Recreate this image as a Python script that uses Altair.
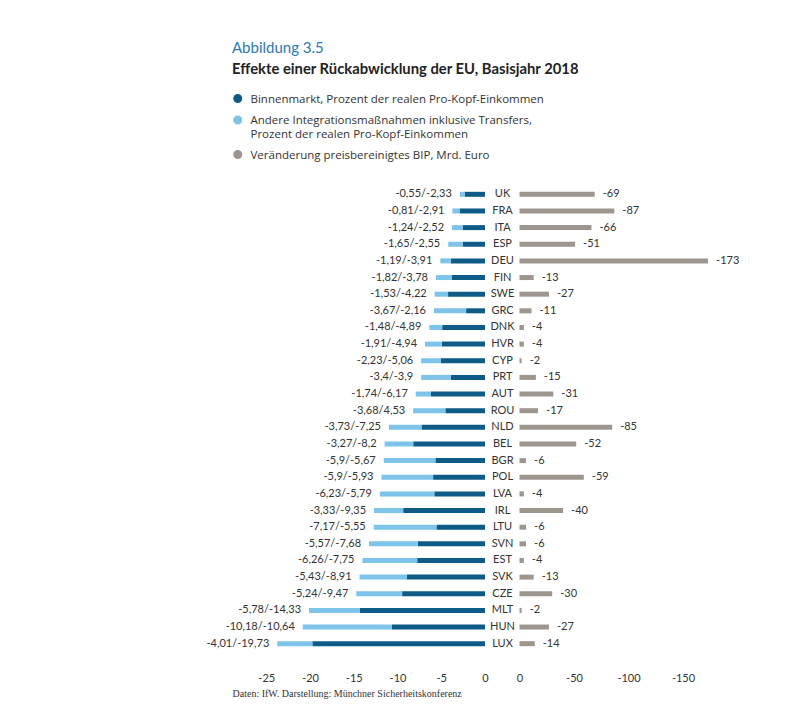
import altair as alt
import pandas as pd

countries = ["UK", "FRA", "ITA", "ESP", "DEU", "FIN", "SWE", "GRC", "DNK", "HVR",
             "CYP", "PRT", "AUT", "ROU", "NLD", "BEL", "BGR", "POL", "LVA", "IRL",
             "LTU", "SVN", "EST", "SVK", "CZE", "MLT", "HUN", "LUX"]
# Andere Integrationsmaßnahmen (light), Binnenmarkt (dark), in % (magnitudes)
other = [0.55, 0.81, 1.24, 1.65, 1.19, 1.82, 1.53, 3.67, 1.48, 1.91,
         2.23, 3.4, 1.74, 3.68, 3.73, 3.27, 5.9, 5.9, 6.23, 3.33,
         7.17, 5.57, 6.26, 5.43, 5.24, 5.78, 10.18, 4.01]
single_market = [2.33, 2.91, 2.52, 2.55, 3.91, 3.78, 4.22, 2.16, 4.89, 4.94,
                 5.06, 3.9, 6.17, 4.53, 7.25, 8.2, 5.67, 5.93, 5.79, 9.35,
                 5.55, 7.68, 7.75, 8.91, 9.47, 14.33, 10.64, 19.73]
gdp = [-69, -87, -66, -51, -173, -13, -27, -11, -4, -4,
       -2, -15, -31, -17, -85, -52, -6, -59, -4, -40,
       -6, -6, -4, -13, -30, -2, -27, -14]
pct_labels = ["-0,55/-2,33", "-0,81/-2,91", "-1,24/-2,52", "-1,65/-2,55", "-1,19/-3,91",
              "-1,82/-3,78", "-1,53/-4,22", "-3,67/-2,16", "-1,48/-4,89", "-1,91/-4,94",
              "-2,23/-5,06", "-3,4/-3,9", "-1,74/-6,17", "-3,68/4,53", "-3,73/-7,25",
              "-3,27/-8,2", "-5,9/-5,67", "-5,9/-5,93", "-6,23/-5,79", "-3,33/-9,35",
              "-7,17/-5,55", "-5,57/-7,68", "-6,26/-7,75", "-5,43/-8,91", "-5,24/-9,47",
              "-5,78/-14,33", "-10,18/-10,64", "-4,01/-19,73"]
left_ticks = [-25, -20, -15, -10, -5, 0]
right_ticks = [0, -50, -100, -150]

S1 = "Binnenmarkt, Prozent der realen Pro-Kopf-Einkommen"
S2 = "Andere Integrationsmaßnahmen inklusive Transfers, Prozent der realen Pro-Kopf-Einkommen"
S3 = "Veränderung preisbereinigtes BIP, Mrd. Euro"
C1, C2, C3 = "#0d5b86", "#7dc3ea", "#9d968e"

df = pd.DataFrame({
    "country": countries,
    "other": other,
    "single": single_market,
    "gdp": gdp,
    "label": pct_labels,
})

# circle drawn slightly above the entry's baseline so it lines up with the first text line
circle_path = "M 1,-0.92 A 1,1 0 1,1 -1,-0.92 A 1,1 0 1,1 1,-0.92 Z"

color_scale = alt.Scale(domain=[S1, S2, S3], range=[C1, C2, C3])
legend = alt.Legend(
    orient="none", legendX=0, legendY=-89, title=None,
    symbolType=circle_path, symbolSize=81, symbolStrokeWidth=0, symbolOpacity=1,
    labelFont="Open Sans", labelFontSize=11.5, labelColor="#333333", labelLimit=500,
    labelOffset=7, rowPadding=8.5, labelBaseline="alphabetic",
    labelExpr="indexof(datum.label, 'Transfers, ') > 0 ? split(replace(datum.label, 'Transfers, ', 'Transfers,|'), '|') : datum.label",
)

y_axis = alt.Axis(orient="left", offset=-270, labelAlign="center", labelPadding=0,
                  ticks=False, tickSize=0, domain=False, title=None,
                  labelFont="Lato", labelFontSize=11, labelColor="#333333")
y_enc = alt.Y("country:N", sort=countries, axis=y_axis,
              scale=alt.Scale(paddingInner=0, paddingOuter=0))

left_scale = alt.Scale(domain=[-28.914, 29.143], nice=False, zero=False)
right_scale = alt.Scale(domain=[-202.3, 263.8], reverse=True, nice=False, zero=False)

left_axis = alt.Axis(orient="bottom", values=left_ticks, labelExpr="'' + datum.value",
                     grid=False, ticks=False, domain=False, labelPadding=20,
                     labelFont="Lato", labelFontSize=11, labelColor="#333333",
                     title="Daten: IfW. Darstellung: Münchner Sicherheitskonferenz",
                     titleFont="Liberation Serif", titleFontSize=10, titleFontWeight="normal",
                     titleColor="#333333", titleAlign="left", titleAnchor="start",
                     titleX=0, titleY=41, titleBaseline="middle")
right_axis = alt.Axis(orient="bottom", values=right_ticks, labelExpr="'' + datum.value",
                      grid=False, ticks=False, domain=False, labelPadding=20,
                      labelFont="Lato", labelFontSize=11, labelColor="#333333", title=None)

base = alt.Chart(df)

dark_bars = base.transform_calculate(
    series=f"'{S1}'", x0="0", x1="-datum.single"
).mark_bar(size=5).encode(
    x=alt.X("x0:Q", scale=left_scale, axis=left_axis),
    x2="x1:Q",
    y=y_enc,
    color=alt.Color("series:N", scale=color_scale, legend=legend),
)
light_bars = base.transform_calculate(
    series=f"'{S2}'", x0="-datum.single", x1="-(datum.single + datum.other)"
).mark_bar(size=5).encode(
    x=alt.X("x0:Q", scale=left_scale, axis=left_axis),
    x2="x1:Q",
    y=y_enc,
    color=alt.Color("series:N", scale=color_scale, legend=legend),
)
left_text = base.transform_calculate(
    xe="-(datum.single + datum.other)"
).mark_text(align="right", baseline="middle", dx=-8, font="Lato", fontSize=11,
            color="#333333").encode(
    x=alt.X("xe:Q", scale=left_scale, axis=left_axis),
    y=y_enc,
    text="label:N",
)
left = alt.layer(dark_bars, light_bars, left_text)

gdp_bars = base.transform_calculate(
    series=f"'{S3}'", z="0"
).mark_bar(size=5).encode(
    x=alt.X("z:Q", scale=right_scale, axis=right_axis),
    x2="gdp:Q",
    y=y_enc,
    color=alt.Color("series:N", scale=color_scale, legend=legend),
)
gdp_text = base.transform_calculate(
    txt="'' + datum.gdp"
).mark_text(align="left", baseline="middle", dx=8, font="Lato", fontSize=11,
            color="#333333").encode(
    x=alt.X("gdp:Q", scale=right_scale, axis=right_axis),
    y=y_enc,
    text="txt:N",
)
right = alt.layer(gdp_bars, gdp_text)

chart = alt.layer(left, right).resolve_scale(x="independent").properties(
    width=508, height=466,
    padding={"left": 224, "top": 178, "right": 30, "bottom": 55},
    autosize=alt.AutoSizeParams(type="none"),
    background="white",
    title=alt.TitleParams(
        text="Abbildung 3.5",
        subtitle="Effekte einer Rückabwicklung der EU, Basisjahr 2018",
        anchor="start", frame="group", orient="top", offset=20,
        font="Lato", fontSize=15, fontWeight="normal", color="#2b7ab3",
        subtitleFont="Lato", subtitleFontSize=14.8, subtitleFontWeight="bold",
        subtitleColor="#222222", subtitlePadding=6,
    ),
).configure_view(stroke=None)

chart.save("out.html", embed_options={"renderer": "svg", "actions": False})
